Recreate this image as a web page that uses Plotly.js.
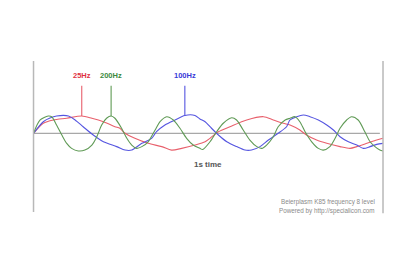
<!DOCTYPE html>
<html>
<head>
<meta charset="utf-8">
<script src="https://cdn.plot.ly/plotly-3.0.1.min.js"></script>
<style>html,body{margin:0;padding:0;background:#fff;}#chart{width:400px;height:267px;}</style>
</head>
<body>
<div id="chart"></div>
<script>
// time (s) and amplitude samples
const tRed = [0,0.028,0.057,0.095,0.138,0.167,0.200,0.233,0.247,0.262,0.290,0.328,0.367,0.395,0.424,0.462,0.491,0.505,0.529,0.562,0.610,0.658,0.686,0.715,0.734,0.762,0.781,0.810,0.839,0.877,0.906,0.925,0.954,0.982,1.0];
const vRed = [0,0.58,0.77,0.87,1.0,0.87,0.67,0.38,0.29,0,-0.29,-0.58,-0.77,-0.97,-0.87,-0.68,-0.49,-0.29,0.09,0.38,0.77,0.96,0.77,0.58,0.48,0.19,-0.10,-0.39,-0.58,-0.77,-0.87,-0.77,-0.58,-0.39,-0.29];

const tGreen = [0,0.019,0.042,0.052,0.066,0.081,0.095,0.109,0.128,0.147,0.167,0.181,0.195,0.209,0.222,0.233,0.252,0.267,0.281,0.295,0.310,0.328,0.348,0.362,0.381,0.400,0.419,0.438,0.457,0.476,0.484,0.505,0.524,0.543,0.567,0.581,0.600,0.619,0.639,0.653,0.667,0.686,0.700,0.720,0.734,0.748,0.762,0.777,0.796,0.815,0.829,0.848,0.863,0.877,0.896,0.910,0.929,0.948,0.963,0.977,0.991,1.0];
const vGreen = [0,0.77,1.0,0.96,0.48,-0.10,-0.58,-0.87,-1.02,-0.97,-0.68,-0.20,0.48,0.87,1.0,0.87,0.29,-0.29,-0.68,-0.87,-0.77,-0.49,0.19,0.67,0.96,0.77,0.29,-0.29,-0.68,-0.87,-0.94,-0.49,0.09,0.58,0.90,0.77,0.19,-0.39,-0.77,-0.87,-0.68,-0.20,0.38,0.77,0.87,0.96,0.67,0.09,-0.49,-0.87,-0.97,-0.77,-0.29,0.29,0.77,0.96,0.77,0.09,-0.49,-0.77,-0.97,-1.02];

const tBlue = [0,0.028,0.047,0.066,0.100,0.119,0.142,0.171,0.200,0.238,0.262,0.281,0.310,0.338,0.352,0.376,0.405,0.433,0.462,0.476,0.491,0.505,0.529,0.553,0.581,0.605,0.624,0.648,0.672,0.700,0.724,0.734,0.753,0.772,0.791,0.815,0.839,0.858,0.877,0.901,0.925,0.944,0.963,0.982,1.0];
const vBlue = [0,0.67,0.88,1.0,1.0,0.77,0.38,-0.10,-0.49,-0.77,-0.97,-0.97,-0.58,-0.29,0.09,0.48,0.77,1.03,1.03,0.83,0.67,0.38,-0.10,-0.49,-0.77,-0.97,-0.97,-0.77,-0.39,0,0.38,0.77,0.96,1.06,0.96,0.77,0.48,0.19,-0.20,-0.49,-0.68,-0.87,-0.77,-0.64,-0.58];

const seriesNames = ["25Hz","200Hz","100Hz"];
const markerTimes = [0.138,0.222,0.433];
const markerPeaks = [1.0,1.0,1.03];
const lineColors = ["#e8606c","#5f9a55","#5555e0"];
const labelColors = ["#e0303f","#3d8a3d","#3a3ad8"];

const footer = ["Beierplasm K85 frequency 8 level","Powered by http://specialicon.com"];
const timeLabel = "1s time";

const traces = [
  {x:tRed, y:vRed, name:seriesNames[0]},
  {x:tGreen, y:vGreen, name:seriesNames[1]},
  {x:tBlue, y:vBlue, name:seriesNames[2]}
].map((tr,i)=>Object.assign(tr,{type:"scatter",mode:"lines",
  line:{color:lineColors[i],width:1.1,shape:"spline",smoothing:0.8},hoverinfo:"skip"}));
// draw order: blue under? keep red, blue, green order similar to picture
const ordered = [traces[0], traces[2], traces[1]];

const shapes = [
  {type:"line",xref:"x",yref:"y",x0:0,x1:0,y0:-4.55,y1:4.18,line:{color:"#b8b8b8",width:1.5}},
  {type:"line",xref:"x",yref:"y",x0:1.0,x1:1.0,y0:-4.62,y1:4.18,line:{color:"#b8b8b8",width:1.5}},
  {type:"line",xref:"x",yref:"y",x0:0,x1:0.991,y0:0,y1:0,line:{color:"#a8a8a8",width:1.2},layer:"below"}
];
markerTimes.forEach((t,i)=>shapes.push({type:"line",xref:"x",yref:"y",x0:t,x1:t,y0:markerPeaks[i],y1:2.75,line:{color:lineColors[i],width:1.1}}));

const annotations = markerTimes.map((t,i)=>({x:t,y:3.37,xref:"x",yref:"y",text:"<b>"+seriesNames[i]+"</b>",showarrow:false,
  font:{family:"Liberation Sans, Arial, sans-serif",size:7.5,color:labelColors[i]}}));
annotations.push({x:0.499,y:-1.83,xref:"x",yref:"y",text:"<b>"+timeLabel+"</b>",showarrow:false,
  font:{family:"Liberation Sans, Arial, sans-serif",size:8,color:"#555"}});
footer.forEach((s,i)=>annotations.push({x:0.983,y:-3.95-0.53*i,xref:"x",yref:"y",text:s,showarrow:false,xanchor:"right",
  font:{family:"Liberation Sans, Arial, sans-serif",size:6.3,color:"#8a8a8a"}}));

const layout = {
  width:400,height:267,margin:{l:0,r:0,t:0,b:0},
  paper_bgcolor:"#fff",plot_bgcolor:"#fff",showlegend:false,
  xaxis:{range:[-0.0959,1.0486],visible:false,fixedrange:true},
  yaxis:{range:[-7.728,7.705],visible:false,fixedrange:true},
  shapes:shapes,annotations:annotations
};
Plotly.newPlot("chart",ordered,layout,{staticPlot:true,displayModeBar:false});
</script>
</body>
</html>
